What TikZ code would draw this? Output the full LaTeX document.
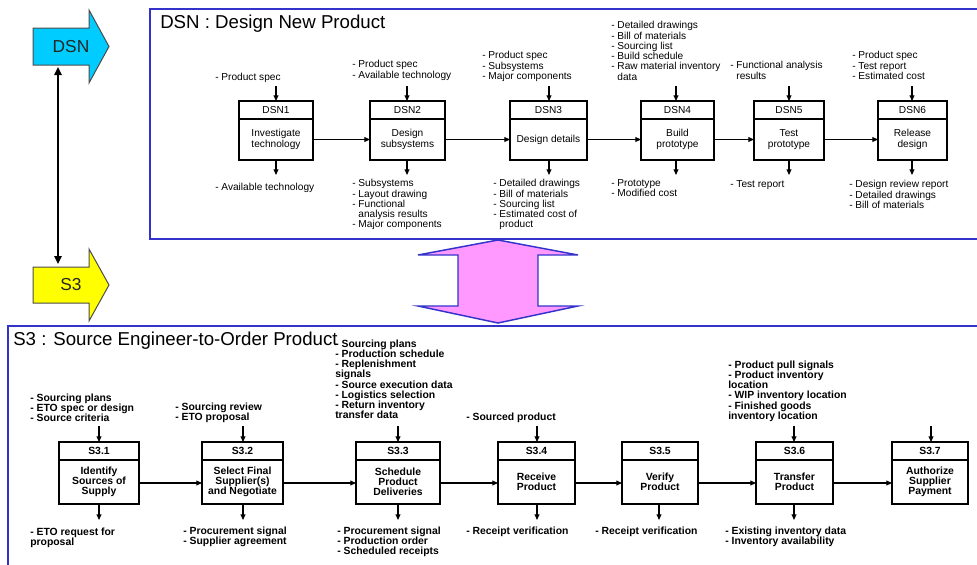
\documentclass[tikz,border=0pt]{standalone}
\usepackage{fontspec}
\setmainfont{Liberation Sans}
\usetikzlibrary{arrows.meta,calc}
\setlength{\lineskiplimit}{-5pt}
\definecolor{frameblue}{RGB}{51,51,204}
\definecolor{dsncyan}{RGB}{0,204,255}
\definecolor{s3yellow}{RGB}{255,255,0}
\definecolor{pinkfill}{RGB}{255,153,255}
\tikzset{
  frameline/.style={draw=frameblue, line width=1.6pt},
  pbox/.style={draw, line width=1.3pt, fill=white, inner sep=0pt, outer sep=0pt},
  divl/.style={line width=1.3pt},
  flow/.style={line width=0.8pt, -{Triangle[length=4.2pt,width=3.6pt]}},
  lbl/.style={anchor=north west, inner sep=0pt, align=left, font=\fontsize{7.6}{7.7}\selectfont},
  blbl/.style={anchor=north west, inner sep=0pt, align=left, font=\fontsize{7.8}{7.7}\selectfont\bfseries},
  btxt/.style={inner sep=0pt, align=center, font=\fontsize{7.6}{7.7}\selectfont},
  bbtxt/.style={inner sep=0pt, align=center, font=\fontsize{7.8}{7.7}\selectfont\bfseries},
  ttl/.style={anchor=base west, inner sep=0pt, font=\fontsize{14}{16}\selectfont},
  blockarrow/.style={draw=black!70, line width=0.75pt},
  blocktxt/.style={inner sep=0pt, font=\fontsize{13}{15}\selectfont, text=black!85},
}
% name, left, right, top, bottom, divider, header, body, text style
\newcommand{\procbox}[9]{%
  \node[pbox, minimum width={(#3-#2)*0.75pt}, minimum height={(#5-#4)*0.75pt}] (#1) at ({(#2+#3)/2},{(#4+#5)/2}) {};
  \draw[divl] (#2,#6) -- (#3,#6);
  \node[#9] (#1h) at ({(#2+#3)/2},{(#4+#6)/2}) {#7};
  \node[#9] (#1b) at ({(#2+#3)/2},{(#6+#5)/2}) {#8};
}
\begin{document}
\begin{tikzpicture}[x=0.75pt, y=-0.75pt]
\useasboundingbox (0,0) rectangle (977,564);

% ---------- frames ----------
\draw[frameline] (990,9) -- (150,9) -- (150,239) -- (990,239);
\draw[frameline] (990,326) -- (8,326) -- (8,580);
\node[ttl] (dsntitle) at (160,28) {DSN : Design New Product};
\node[ttl] (s3title) at (13,345) {S3 : Source Engineer-to-Order Product};

% ---------- block arrows ----------
\draw[blockarrow, fill=dsncyan] (33,28) -- (89,28) -- (89,10) -- (109,46.5) -- (89,83) -- (89,65) -- (33,65) -- cycle;
\node[blocktxt] (dsnA) at (71,47) {DSN};
\draw[blockarrow, fill=s3yellow] (33,267) -- (89,267) -- (89,249) -- (109,285) -- (89,321) -- (89,303) -- (33,303) -- cycle;
\node[blocktxt] (s3A) at (71,285) {S3};
\coordinate (va1) at (58,67);
\coordinate (va2) at (58,264);
\draw[line width=1.5pt, {Triangle[length=6pt,width=5.5pt]}-{Triangle[length=6pt,width=5.5pt]}] (va1) -- (va2);

% ---------- pink double arrow ----------
\draw[draw=frameblue, line width=1.1pt, fill=pinkfill, line join=miter]
  (498,240) -- (578,255) -- (538,255) -- (538,306) -- (578,306) -- (498,323)
  -- (418,306) -- (458,306) -- (458,255) -- (418,255) -- cycle;

% ---------- DSN boxes ----------
\procbox{d1}{239}{313}{101}{160}{119}{DSN1}{Investigate\\technology}{btxt}
\procbox{d2}{370}{445}{101}{160}{119}{DSN2}{Design\\subsystems}{btxt}
\procbox{d3}{510}{587}{101}{160}{119}{DSN3}{Design details}{btxt}
\procbox{d4}{641}{714}{101}{160}{119}{DSN4}{Build\\prototype}{btxt}
\procbox{d5}{754}{824}{101}{160}{119}{DSN5}{Test\\prototype}{btxt}
\procbox{d6}{878}{947}{101}{160}{119}{DSN6}{Release\\design}{btxt}

\draw[flow] (d1.east |- d1b) -- (d2.west |- d1b);
\draw[flow] (d2.east |- d1b) -- (d3.west |- d1b);
\draw[flow] (d3.east |- d1b) -- (d4.west |- d1b);
\draw[flow] (d4.east |- d1b) -- (d5.west |- d1b);
\draw[flow] (d5.east |- d1b) -- (d6.west |- d1b);

\foreach \n/\x in {d1/276,d2/407,d3/549,d4/676,d5/789,d6/912}{
  \coordinate (\n in) at (\x,86);
  \coordinate (\n out) at (\x,175);
  \draw[flow] (\n in) -- (\n in |- \n.north);
  \draw[flow] (\n out |- \n.south) -- (\n out);
}

% DSN labels
\node[lbl] (d1il) at (215,73.3) {- Product spec};
\node[lbl] (d1ol) at (215,183.3) {- Available technology};
\node[lbl] (d2il) at (352,60.3) {- Product spec\\- Available technology};
\node[lbl] (d2ol) at (352,179.3) {- Subsystems\\- Layout drawing\\- Functional\\\phantom{- }analysis results\\- Major components};
\node[lbl] (d3il) at (482,51.3) {- Product spec\\- Subsystems\\- Major components};
\node[lbl] (d3ol) at (493,179.3) {- Detailed drawings\\- Bill of materials\\- Sourcing list\\- Estimated cost of\\\phantom{- }product};
\node[lbl] (d4il) at (611,21.3) {- Detailed drawings\\- Bill of materials\\- Sourcing list\\- Build schedule\\- Raw material inventory\\\phantom{- }data};
\node[lbl] (d4ol) at (611,179.3) {- Prototype\\- Modified cost};
\node[lbl] (d5il) at (730,61.3) {- Functional analysis\\\phantom{- }results};
\node[lbl] (d5ol) at (730,180.3) {- Test report};
\node[lbl] (d6il) at (852,51.3) {- Product spec\\- Test report\\- Estimated cost};
\node[lbl] (d6ol) at (849,180.3) {- Design review report\\- Detailed drawings\\- Bill of materials};

% ---------- S3 boxes ----------
\procbox{s1}{59}{139}{442}{504}{460}{S3.1}{Identify\\Sources of\\Supply}{bbtxt}
\procbox{s2}{202}{283}{442}{504}{460}{S3.2}{Select Final\\Supplier(s)\\and Negotiate}{bbtxt}
\procbox{s3}{356}{440}{442}{504}{460}{S3.3}{Schedule\\Product\\Deliveries}{bbtxt}
\procbox{s4}{498}{575}{442}{504}{460}{S3.4}{Receive\\Product}{bbtxt}
\procbox{s5}{622}{698}{442}{504}{460}{S3.5}{Verify\\Product}{bbtxt}
\procbox{s6}{756}{833}{442}{504}{460}{S3.6}{Transfer\\Product}{bbtxt}
\procbox{s7}{892}{968}{442}{504}{460}{S3.7}{Authorize\\Supplier\\Payment}{bbtxt}

\coordinate (s3flow) at (0,483);
\draw[flow] (s1.east |- s3flow) -- (s2.west |- s3flow);
\draw[flow] (s2.east |- s3flow) -- (s3.west |- s3flow);
\draw[flow] (s3.east |- s3flow) -- (s4.west |- s3flow);
\draw[flow] (s4.east |- s3flow) -- (s5.west |- s3flow);
\draw[flow] (s5.east |- s3flow) -- (s6.west |- s3flow);
\draw[flow] (s6.east |- s3flow) -- (s7.west |- s3flow);

\foreach \n/\x in {s1/99,s2/243,s3/398,s4/537,s6/794,s7/931}{
  \coordinate (\n in) at (\x,426);
  \draw[flow] (\n in) -- (\n in |- \n.north);
}
\foreach \n/\x in {s1/99,s2/243,s3/398,s4/537,s5/659,s6/794}{
  \coordinate (\n out) at (\x,520);
  \draw[flow] (\n out |- \n.south) -- (\n out);
}

% S3 labels
\node[blbl] (s1il) at (30,393.3) {- Sourcing plans\\- ETO spec or design\\- Source criteria};
\node[blbl] (s1ol) at (30,527.3) {- ETO request for\\proposal};
\node[blbl] (s2il) at (175,402.3) {- Sourcing review\\- ETO proposal};
\node[blbl] (s2ol) at (183,526.3) {- Procurement signal\\- Supplier agreement};
\node[blbl] (s3il) at (335,339.3) {- Sourcing plans\\- Production schedule\\- Replenishment\\signals\\- Source execution data\\- Logistics selection\\- Return inventory\\transfer data};
\node[blbl] (s3ol) at (337,526.3) {- Procurement signal\\- Production order\\- Scheduled receipts};
\node[blbl] (s4il) at (466,412.3) {- Sourced product};
\node[blbl] (s4ol) at (466,526.3) {- Receipt verification};
\node[blbl] (s5ol) at (595,526.3) {- Receipt verification};
\node[blbl] (s6il) at (728,360.3) {- Product pull signals\\- Product inventory\\location\\- WIP inventory location\\- Finished goods\\inventory location};
\node[blbl] (s6ol) at (725,526.3) {- Existing inventory data\\- Inventory availability};
\end{tikzpicture}
\end{document}
